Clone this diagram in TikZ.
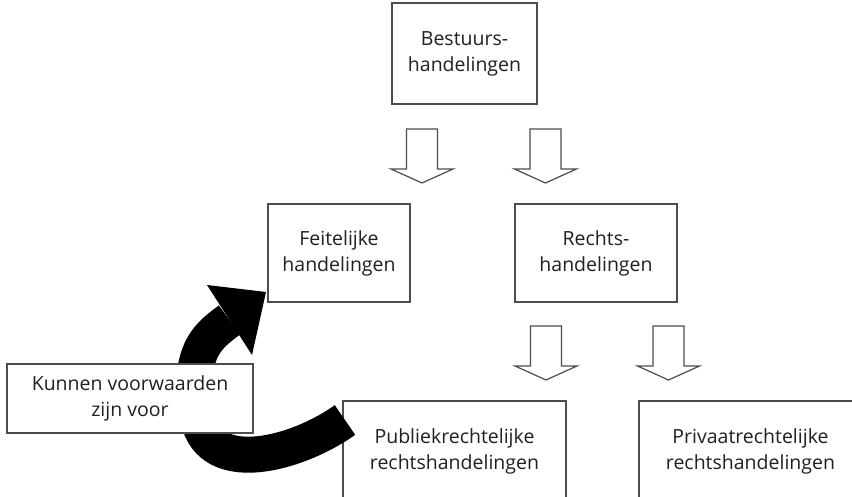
\documentclass[tikz,border=0pt]{standalone}
\usepackage{fontspec}
\setmainfont{Open Sans}
\usetikzlibrary{positioning}

\definecolor{tekst}{HTML}{231F20}
\definecolor{rand}{HTML}{4D4D4D}

\tikzset{
  vak/.style={draw=rand, line width=1.3pt, fill=white, align=center, inner sep=0pt,
    text=tekst, font=\fontsize{19.5}{26}\selectfont},
  blokpijl/.style={draw=rand, line width=1.2pt, fill=white, line join=miter},
}

% holle pijl omlaag: #1 = midden x, #2 = bovenkant y
\newcommand{\blokpijl}[2]{%
  \draw[blokpijl] (#1-15.5,#2) -- (#1+15.5,#2) -- (#1+15.5,#2+40) -- (#1+31,#2+40)
    -- (#1,#2+54) -- (#1-31,#2+40) -- (#1-15.5,#2+40) -- cycle;}

\begin{document}
\begin{tikzpicture}[x=1pt, y=-1pt]

  %% ════ vakken ════
  \node[vak, minimum width=145pt, minimum height=101pt] (bestuur) at (464.5,53.5) {Bestuurs-\\handelingen};
  \node[vak, minimum width=142pt, minimum height=98pt] (feitelijk) at (339,253) {Feitelijke\\handelingen};
  \node[vak, minimum width=162pt, minimum height=98pt] (rechts) at (596,253) {Rechts-\\handelingen};
  \node[vak, minimum width=223pt, minimum height=100pt] (publiek) at (454.5,451) {Publiekrechtelijke\\rechtshandelingen};
  \node[vak, minimum width=223pt, minimum height=100pt] (privaat) at (750.5,451) {Privaatrechtelijke\\rechtshandelingen};

  %% ════ holle pijlen ════
  \blokpijl{422}{129}
  \blokpijl{545.5}{129}
  \blokpijl{546}{326}
  \blokpijl{668.5}{326}

  %% ════ zwarte boog (loopt achter het linker vak door) ════
  \coordinate (staart) at (345,420);
  \coordinate (kopvoet) at (229.5,320);
  \draw[line width=36pt, line cap=butt] (staart) .. controls (300,452) and (222,474) .. (202,430)
    -- (195,372) .. controls (199,345) and (210,334) .. (kopvoet);
  \fill (266,292) -- (207,285) -- (252,355) -- cycle;

  \node[vak, minimum width=246pt, minimum height=69pt] (kunnen) at (130,398.5) {Kunnen voorwaarden\\zijn voor};

  \pgfresetboundingbox
  \path[use as bounding box] (0,0) rectangle (852,497);
\end{tikzpicture}
\end{document}
